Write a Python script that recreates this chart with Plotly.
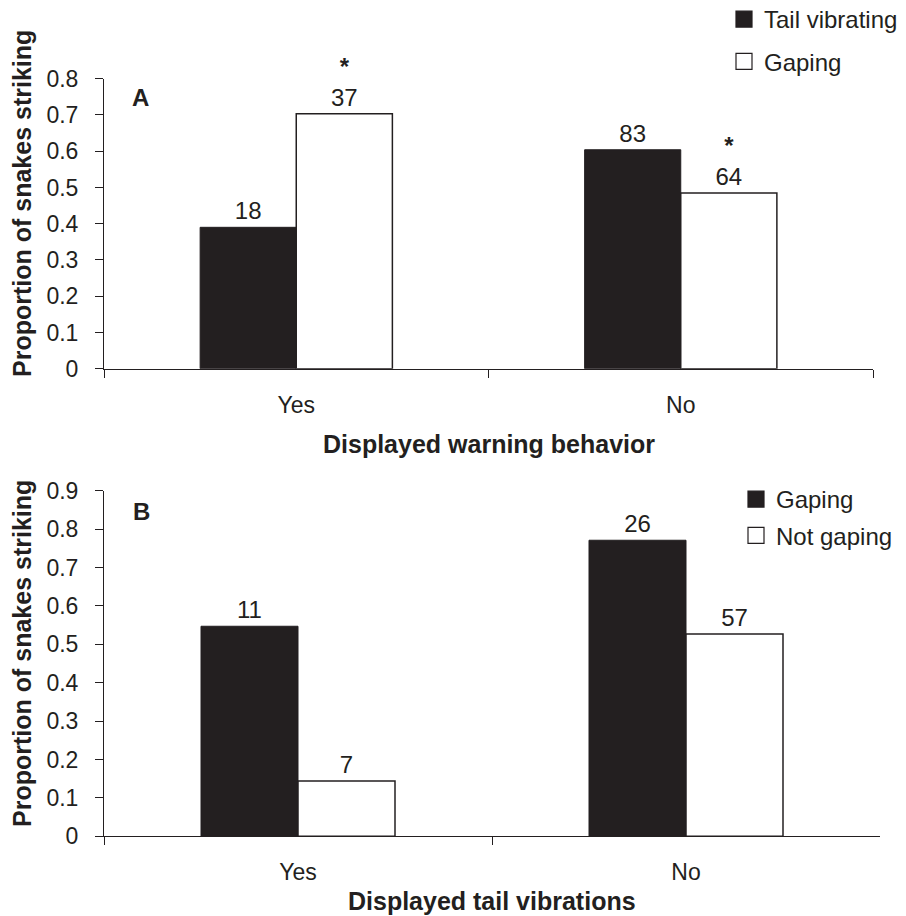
import plotly.graph_objects as go

# ---------------- data ----------------
categories = ["Yes", "No"]

# Panel A: displayed warning behaviour
a_tail_vibrating = [0.39, 0.604]
a_gaping = [0.703, 0.485]
a_n_tail_vibrating = [18, 83]
a_n_gaping = [37, 64]
a_sig_gaping = [True, True]

# Panel B: displayed tail vibrations
b_gaping = [0.547, 0.771]
b_not_gaping = [0.144, 0.527]
b_n_gaping = [11, 26]
b_n_not_gaping = [7, 57]

a_yticks = [0, 0.1, 0.2, 0.3, 0.4, 0.5, 0.6, 0.7, 0.8]
b_yticks = [0, 0.1, 0.2, 0.3, 0.4, 0.5, 0.6, 0.7, 0.8, 0.9]

# ---------------- style ----------------
INK = "#231f20"
FONT = "Arial, Liberation Sans, Helvetica, sans-serif"
W, H = 906, 916


def px_x(p):
    return p / W


def px_y(p):
    return 1 - p / H


def label(ns, sig=None):
    out = []
    for i, n in enumerate(ns):
        if sig is not None and sig[i]:
            out.append("<b>*</b><br>" + str(n))
        else:
            out.append(str(n))
    return out


fig = go.Figure()

bar_common = dict(textposition="outside", cliponaxis=False, showlegend=False,
                  textfont=dict(family=FONT, size=24, color=INK))

dark = dict(color=INK, line=dict(color=INK, width=1))
light = dict(color="white", line=dict(color=INK, width=1.5))

fig.add_trace(go.Bar(x=categories, y=a_tail_vibrating, name="Tail vibrating",
                     text=label(a_n_tail_vibrating), marker=dark,
                     xaxis="x", yaxis="y", **bar_common))
fig.add_trace(go.Bar(x=categories, y=a_gaping, name="Gaping",
                     text=label(a_n_gaping, a_sig_gaping), marker=light,
                     xaxis="x", yaxis="y", **bar_common))
fig.add_trace(go.Bar(x=categories, y=b_gaping, name="Gaping",
                     text=label(b_n_gaping), marker=dark,
                     xaxis="x2", yaxis="y2", **bar_common))
fig.add_trace(go.Bar(x=categories, y=b_not_gaping, name="Not gaping",
                     text=label(b_n_not_gaping), marker=light,
                     xaxis="x2", yaxis="y2", **bar_common))


# legend entries with larger square swatches
def swatch(name, fill, xa, ya, leg, grp):
    return go.Scatter(x=[None], y=[None], mode="markers", name=name,
                      marker=dict(symbol="square", size=16, color=fill,
                                  line=dict(color=INK, width=1.2)),
                      xaxis=xa, yaxis=ya, legend=leg, legendgroup=grp,
                      hoverinfo="skip")


fig.add_trace(swatch("Tail vibrating", INK, "x", "y", "legend", "a1"))
fig.add_trace(swatch("Gaping", "white", "x", "y", "legend", "a2"))
fig.add_trace(swatch("Gaping", INK, "x2", "y2", "legend2", "b1"))
fig.add_trace(swatch("Not gaping", "white", "x2", "y2", "legend2", "b2"))

xcommon = dict(type="category", showline=True, linecolor=INK, linewidth=1,
               ticks="outside", tickson="boundaries", ticklen=8, tickcolor=INK,
               showgrid=False, zeroline=False,
               automargin=False,
               tickfont=dict(family=FONT, size=23, color=INK), fixedrange=True)
ycommon = dict(showline=True, linecolor=INK, linewidth=1, ticks="outside",
               ticklen=8, tickcolor=INK, showgrid=False, zeroline=False,
               ticklabelstandoff=12, automargin=False,
               tickfont=dict(family=FONT, size=23, color=INK), fixedrange=True)

fig.update_layout(
    width=W, height=H,
    margin=dict(l=0, r=0, t=0, b=0, autoexpand=False),
    paper_bgcolor="white", plot_bgcolor="white",
    barmode="group", bargap=0.5, bargroupgap=0,
    font=dict(family=FONT, color=INK),
    xaxis=dict(domain=[px_x(104), px_x(873)], anchor="y", ticklabelstandoff=16,
               **xcommon),
    yaxis=dict(domain=[px_y(368.7), px_y(78.7)], anchor="x", range=[0, 0.8],
               tickvals=a_yticks, ticktext=[f"{v:g}" for v in a_yticks], **ycommon),
    xaxis2=dict(domain=[px_x(104), px_x(880)], anchor="y2", ticklabelstandoff=15,
                **xcommon),
    yaxis2=dict(domain=[px_y(836.3), px_y(490.7)], anchor="x2", range=[0, 0.9],
                tickvals=b_yticks, ticktext=[f"{v:g}" for v in b_yticks], **ycommon),
    legend=dict(x=px_x(724), y=px_y(-3), xanchor="left", yanchor="top",
                font=dict(family=FONT, size=24, color=INK), itemsizing="trace",
                traceorder="grouped", tracegroupgap=8, bgcolor="rgba(0,0,0,0)"),
    legend2=dict(x=px_x(736), y=px_y(477), xanchor="left", yanchor="top",
                 font=dict(family=FONT, size=24, color=INK), itemsizing="trace",
                 traceorder="grouped", tracegroupgap=2, bgcolor="rgba(0,0,0,0)"),
    showlegend=True,
)

ann = []
title_font = dict(family=FONT, size=25, color=INK)
base = dict(xref="paper", yref="paper", showarrow=False,
            xanchor="center", yanchor="middle")
ann.append(dict(text="<b>Proportion of snakes striking</b>", textangle=-90,
                x=px_x(22), y=px_y(204), font=title_font, **base))
ann.append(dict(text="<b>Proportion of snakes striking</b>", textangle=-90,
                x=px_x(22), y=px_y(654), font=title_font, **base))
ann.append(dict(text="<b>Displayed warning behavior</b>",
                x=px_x(489), y=px_y(444), font=title_font, **base))
ann.append(dict(text="<b>Displayed tail vibrations</b>",
                x=px_x(492), y=px_y(901), font=title_font, **base))
ann.append(dict(text="<b>A</b>", x=px_x(140), y=px_y(98),
                font=dict(family=FONT, size=24, color=INK), **base))
ann.append(dict(text="<b>B</b>", x=px_x(141), y=px_y(511),
                font=dict(family=FONT, size=24, color=INK), **base))
fig.update_layout(annotations=ann)

# remove the browser's default page margin so the figure sits at the top-left
fig.write_html("out.html", config={"displayModeBar": False},
               post_script="document.body.style.margin='0';document.body.style.overflow='hidden';")
